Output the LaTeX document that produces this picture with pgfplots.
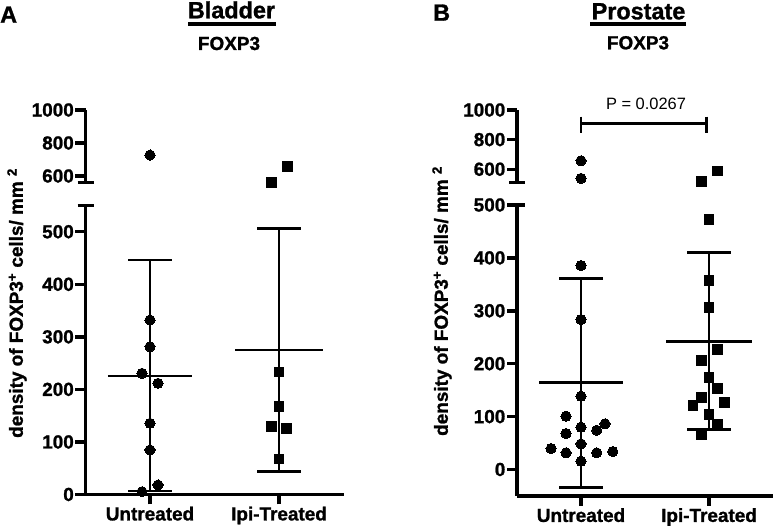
\documentclass[border=0pt]{standalone}
\usepackage{fontspec}
\setmainfont{Liberation Sans}[BoldFeatures={FakeBold=1.2}]
\usepackage{pgfplots}
\pgfplotsset{compat=1.18}
\pgfplotsset{
  base/.style={
    scale only axis, clip=false,
    xmin=-0.5, xmax=1.5,
    axis line style={line width=3.8bp, -},
    /pgf/number format/assume math mode=true,
    /pgf/number format/set thousands separator={},
    scaled y ticks=false,
    tick label style={font=\fontsize{19}{22}\selectfont\bfseries},
    yticklabel style={inner sep=1.5bp},
    xticklabel style={inner sep=2bp},
  },
  lowax/.style={base, axis x line*=bottom, axis y line*=left, xtick={0,1}, xticklabels={Untreated,Ipi-Treated},
    tick align=outside, major tick length=10bp, tick style={black, line width=3.4bp}},
  upax/.style={base, axis x line=none, axis y line*=left, xtick=\empty,
    tick align=outside, major tick length=10bp, tick style={black, line width=3.4bp}},
  sdbar/.style={line width=2.7bp, black, no markers},
  dotc/.style={only marks, mark=*, mark size=5.1bp, mark options={fill=black, draw=black, line width=0pt}},
  dots/.style={only marks, mark=square*, mark size=4.9bp, mark options={fill=black, draw=black, line width=0pt}},
}
\begin{document}
\begin{tikzpicture}[x=1bp,y=1bp]
\path[use as bounding box] (0,0) rectangle (774,528);

% ---------------- Panel A ----------------
\begin{axis}[lowax, at={(85.5bp,33.5bp)}, anchor=south west, width=258bp, height=289bp,
  ymin=0, ymax=550, ytick={0,100,200,300,400,500}]
  \addplot[dotc] coordinates {(0,332) (0,281.2) (-0.062,230.6) (0.062,211.6) (0,135.5) (0,84.7) (0.062,18.1) (-0.062,5.3)};
  \addplot[dots] coordinates {(1,233) (1,167) (0.94,129) (1.055,126) (1,67.5)};
  % mean and SD, Untreated
  \addplot[sdbar] coordinates {(-0.326,225.5) (0.326,225.5)};
  \addplot[sdbar] coordinates {(0,6.7) (0,446)};
  \addplot[sdbar] coordinates {(-0.17,446) (0.17,446)};
  \addplot[sdbar] coordinates {(-0.17,6.7) (0.17,6.7)};
  % mean and SD, Ipi-Treated
  \addplot[sdbar] coordinates {(0.66,275) (1.34,275)};
  \addplot[sdbar] coordinates {(1,43.4) (1,506.5)};
  \addplot[sdbar] coordinates {(0.83,506.5) (1.17,506.5)};
  \addplot[sdbar] coordinates {(0.83,43.4) (1.17,43.4)};
  \draw[line width=3.2bp] ([xshift=-8bp]rel axis cs:0,1) -- ([xshift=8bp]rel axis cs:0,1);
  \draw[line width=3.4bp] (axis cs:0,0) -- ([yshift=-10bp]axis cs:0,0);
  \draw[line width=3.4bp] (axis cs:1,0) -- ([yshift=-10bp]axis cs:1,0);
\end{axis}
\begin{axis}[upax, at={(85.5bp,345.4bp)}, anchor=south west, width=258bp, height=72.6bp,
  ymin=560, ymax=1000, ytick={600,800,1000}]
  \addplot[dotc] coordinates {(0,727)};
  \addplot[dots] coordinates {(0.94,562) (1.065,656)};
  \draw[line width=3.2bp] ([xshift=-8bp]rel axis cs:0,0) -- ([xshift=8bp]rel axis cs:0,0);
\end{axis}

% ---------------- Panel B ----------------
\begin{axis}[lowax, at={(517bp,32bp)}, anchor=south west, width=256bp, height=291bp,
  ymin=-50, ymax=500, ytick={0,100,200,300,400,500}]
  \addplot[dotc] coordinates {(0,385.6) (0,283.6) (0,138.6) (-0.117,100.8) (0,80) (-0.117,68)
    (0.1875,86.4) (0.123,74.3) (0,48.5) (-0.234,39.7) (-0.117,31.6) (0.123,31.6) (0.248,34) (0,15.7)};
  \addplot[dots] coordinates {(1,472.6) (1,357.8) (1,306.8) (1.065,226.8) (0.94,206.6) (1,173.3)
    (1.065,153.6) (0.94,135.5) (0.875,120.9) (1.123,127.2) (1,103.9) (1.065,85) (0.94,66.2)};
  % mean and SD, Untreated
  \addplot[sdbar] coordinates {(-0.328,163.9) (0.328,163.9)};
  \addplot[sdbar] coordinates {(0,-33.5) (0,360.5)};
  \addplot[sdbar] coordinates {(-0.17,360.5) (0.17,360.5)};
  \addplot[sdbar] coordinates {(-0.17,-33.5) (0.17,-33.5)};
  % mean and SD, Ipi-Treated
  \addplot[sdbar] coordinates {(0.664,242.5) (1.336,242.5)};
  \addplot[sdbar] coordinates {(1,75.6) (1,409.6)};
  \addplot[sdbar] coordinates {(0.83,409.6) (1.17,409.6)};
  \addplot[sdbar] coordinates {(0.83,75.6) (1.17,75.6)};
  \draw[line width=3.2bp] ([xshift=-8bp]rel axis cs:0,1) -- ([xshift=8bp]rel axis cs:0,1);
  \draw[line width=3.4bp] (axis cs:0,-50) -- ([yshift=-10bp]axis cs:0,-50);
  \draw[line width=3.4bp] (axis cs:1,-50) -- ([yshift=-10bp]axis cs:1,-50);
\end{axis}
\begin{axis}[upax, at={(517bp,345.4bp)}, anchor=south west, width=256bp, height=72.6bp,
  ymin=510, ymax=1000, ytick={600,800,1000}]
  \addplot[dotc] coordinates {(0,657.4) (0,538.5)};
  \addplot[dots] coordinates {(0.94,520) (1.065,588)};
  \draw[line width=3.2bp] ([xshift=-8bp]rel axis cs:0,0) -- ([xshift=8bp]rel axis cs:0,0);
  % significance bracket
  \draw[line width=2.9bp] (axis cs:0,910) -- (axis cs:0.98,910);
  \draw[line width=2.9bp] (axis cs:0,955) -- (axis cs:0,843);
  \draw[line width=2.9bp] (axis cs:0.98,955) -- (axis cs:0.98,843);
  \node[anchor=base, inner sep=0, font=\fontsize{16.5}{19}\selectfont] at (axis cs:0.508,1000) {P = 0.0267};
\end{axis}

% ---------------- texts ----------------
\node[anchor=base west, inner sep=0, font=\fontsize{23.5}{26}\selectfont\bfseries] at (0,505.3) {A};
\node[anchor=base west, inner sep=0, font=\fontsize{23.5}{26}\selectfont\bfseries] at (433,507.3) {B};

\node[anchor=base, inner sep=0, font=\fontsize{23.5}{26}\selectfont\bfseries] at (231.5,509.7) {Bladder};
\draw[line width=3.3bp] (188,504) -- (276,504);
\node[anchor=base, inner sep=0, font=\fontsize{19}{22}\selectfont\bfseries] at (229,478) {FOXP3};

\node[anchor=base, inner sep=0, font=\fontsize{23.5}{26}\selectfont\bfseries] at (638.5,508.7) {Prostate};
\draw[line width=3.3bp] (590,504) -- (686,504);
\node[anchor=base, inner sep=0, font=\fontsize{19}{22}\selectfont\bfseries] at (638,478.7) {FOXP3};

\node[rotate=90, inner sep=0, font=\fontsize{19}{22}\selectfont\bfseries] at (17,225) {density of FOXP3\textsuperscript{+} cells/ mm \textsuperscript{2}};
\node[rotate=90, inner sep=0, font=\fontsize{19}{22}\selectfont\bfseries] at (442,227) {density of FOXP3\textsuperscript{+} cells/ mm \textsuperscript{2}};
\end{tikzpicture}
\end{document}
